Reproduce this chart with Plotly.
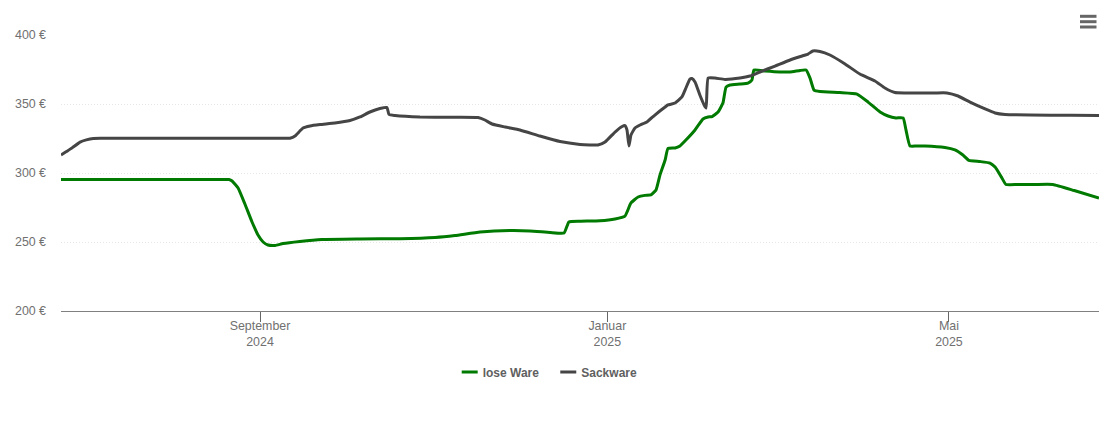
import pandas as pd
import plotly.graph_objects as go

BASE_DATE = "2024-09-01"
tick_dates = ["2024-09-01", "2025-01-01", "2025-05-01"]
tick_labels = ["September<br>2024", "Januar<br>2025", "Mai<br>2025"]
y_ticks = [200, 250, 300, 350, 400]
y_labels = ["200 €", "250 €", "300 €", "350 €", "400 €"]

# days since 2024-09-01, price in EUR
lose_days = [-69.9, -50, -30, -15, -10.9, -9.8, -7.7, -5.3, -2.8, -0.7, 1.1, 2.8, 5.3, 8.1, 14.0, 21.8, 35.1, 49.2, 61.5, 68.5, 77.3, 87.8, 94.8, 101.9, 106.8, 108.5, 112.4, 119.4, 124.7, 128.2, 130.3, 132.8, 135.2, 137.3, 139.1, 140.5, 142.3, 143.3, 145.8, 147.5, 149.6, 152.8, 155.6, 157.4, 158.8, 160.9, 162.6, 163.7, 165.1, 168.6, 171.4, 172.8, 173.5, 177.4, 182.6, 186.2, 189.7, 191.8, 193.2, 194.6, 196.7, 203.7, 209.7, 213.6, 217.8, 220.6, 223.4, 225.9, 226.9, 228.3, 230.5, 233.6, 240.6, 244.1, 246.9, 249.0, 252.9, 256.4, 258.2, 260.6, 262.0, 266, 272, 278.5, 286, 294.7]
lose_values = [295.3, 295.3, 295.3, 295.3, 295.3, 294.2, 289.1, 277.5, 264.5, 255.1, 250, 247.8, 247.5, 248.9, 250.4, 251.8, 252.2, 252.4, 253.3, 254.7, 257.2, 258.3, 258, 256.9, 256.5, 264.5, 265, 265.4, 266.7, 268.8, 278.3, 282.6, 283.8, 284.1, 287.7, 298.6, 309.4, 317.8, 318.1, 319.6, 323.9, 331.2, 339.1, 340.6, 340.9, 344.2, 350.7, 362.3, 363.8, 364.5, 365.2, 367.4, 374.6, 373.9, 373.2, 373.2, 374.3, 374.6, 368.8, 360.1, 359.1, 358.3, 357.2, 351.4, 344.2, 341.3, 339.9, 339.9, 331.2, 319.6, 319.6, 319.6, 318.5, 316.7, 313, 309.1, 308.3, 307.2, 304.3, 296.4, 291.7, 291.7, 291.7, 291.7, 287.3, 281.9]

sack_days = [-69.9, -68, -66, -63.2, -61, -58.5, -56, -40, -20, 0, 6, 9, 10.5, 12.3, 14, 15.1, 17.6, 21.1, 26.3, 31.6, 35.1, 38.6, 42.1, 44.6, 45.3, 47.4, 56.2, 66.7, 76.6, 79, 81.5, 86.1, 91.3, 98.3, 105.4, 112.4, 115.9, 118.7, 121.2, 124.7, 127.2, 128.2, 128.9, 129.6, 130.3, 131.7, 133.5, 135.9, 138.7, 142.3, 143.3, 145.8, 148.2, 149.6, 151, 151.7, 152.8, 154.5, 156, 156.7, 157.4, 159.8, 163.3, 168.6, 172.1, 175.6, 180.9, 186.2, 190.4, 192.5, 194.2, 196.7, 200.2, 205.5, 210.7, 216, 219.5, 223, 226.6, 232, 237, 241.3, 245.2, 249.4, 254.7, 258.2, 261.7, 270.5, 285, 294.7]
sack_values = [313, 315.5, 318.2, 322.4, 324, 325, 325.1, 325.1, 325.1, 325.1, 325.1, 325.1, 325.2, 326.8, 330.4, 332.6, 334.1, 335.1, 336.2, 338, 340.6, 344.2, 346.7, 347.5, 342.4, 341.7, 340.6, 340.4, 340.2, 338.4, 335.5, 333.3, 331.2, 326.8, 322.8, 320.7, 320.3, 320.3, 322.5, 329.7, 333.7, 334.4, 331.2, 319.6, 327.5, 332.6, 334.8, 337, 342, 347.8, 349.3, 350.7, 355.1, 361.6, 368.1, 368.5, 365.9, 356.5, 349.3, 347.1, 368.8, 368.8, 367.8, 368.8, 370.3, 373.2, 377.5, 381.9, 384.8, 386.2, 388.4, 388, 385.5, 379, 371.7, 366.7, 361.6, 358.3, 358, 358, 358, 358, 355.8, 351.4, 346.4, 343.5, 342.4, 342, 341.8, 341.7]

base = pd.Timestamp(BASE_DATE)


def to_dates(days):
    return [(base + pd.Timedelta(days=d)).isoformat() for d in days]


WIDTH, HEIGHT = 1110, 422
L, R, T, B = 61, 11, 35, 111
FONT = "Liberation Sans, Arial, sans-serif"

fig = go.Figure()
for name, d, v, col in [
    ("lose Ware", lose_days, lose_values, "#007a00"),
    ("Sackware", sack_days, sack_values, "#454545"),
]:
    fig.add_trace(go.Scatter(
        x=to_dates(d), y=v, mode="lines", name=name,
        line=dict(color=col, width=3, shape="spline", smoothing=0.4),
    ))

fig.update_layout(
    width=WIDTH, height=HEIGHT,
    margin=dict(l=L, r=R, t=T, b=B, pad=0),
    paper_bgcolor="white", plot_bgcolor="white",
    font=dict(family=FONT, size=12, color="#666666"),
    showlegend=True,
    legend=dict(
        orientation="h", xanchor="center", x=0.479, yanchor="middle", y=-0.221,
        font=dict(size=12, color="#606060", weight=700),
        itemwidth=30, tracegroupgap=0,
    ),
    xaxis=dict(
        type="date",
        range=[(base + pd.Timedelta(days=-69.9)).isoformat(), (base + pd.Timedelta(days=294.7)).isoformat()],
        tickmode="array", tickvals=tick_dates, ticktext=tick_labels,
        ticks="outside", ticklen=10, tickwidth=1, tickcolor="#666666",
        ticklabelstandoff=-7,
        showgrid=False, showline=True, linecolor="#808080", linewidth=1,
        tickfont=dict(size=12.4, color="#707070"), zeroline=False, fixedrange=True,
    ),
    yaxis=dict(
        range=[200, 400], tickmode="array", tickvals=y_ticks, ticktext=y_labels,
        showgrid=True, gridcolor="#e6e6e6", griddash="1px,2px", gridwidth=1,
        zeroline=False, showline=False, ticks="", ticklabelstandoff=14,
        tickfont=dict(size=12.4, color="#707070"), fixedrange=True,
    ),
)

# menu icon, top right
for yy in (16.3, 21.7, 27):
    fig.add_shape(type="line", xref="paper", yref="paper",
                  x0=(1080 - L) / (WIDTH - L - R), x1=(1096.5 - L) / (WIDTH - L - R),
                  y0=1 - (yy - T) / (HEIGHT - T - B), y1=1 - (yy - T) / (HEIGHT - T - B),
                  line=dict(color="#666666", width=3))

# full-bleed page; shorter legend keys as in the source chart
post = """
document.body.style.margin = '0';
document.querySelectorAll('.legend .traces').forEach(function (g, i) {
  g.querySelectorAll('.legendlines path').forEach(function (p) { p.setAttribute('d', 'M5,0h16'); });
  g.querySelectorAll('text.legendtext').forEach(function (t) { t.setAttribute('x', '26'); });
  if (i === 1) {
    var m = /translate\\(([-\\d.]+)[ ,]*([-\\d.]*)/.exec(g.getAttribute('transform'));
    g.setAttribute('transform', 'translate(' + (parseFloat(m[1]) - 3) + ',' + (m[2] || 0) + ')');
  }
});
"""
fig.write_html("out.html", config={"displayModeBar": False, "responsive": False}, post_script=post)
